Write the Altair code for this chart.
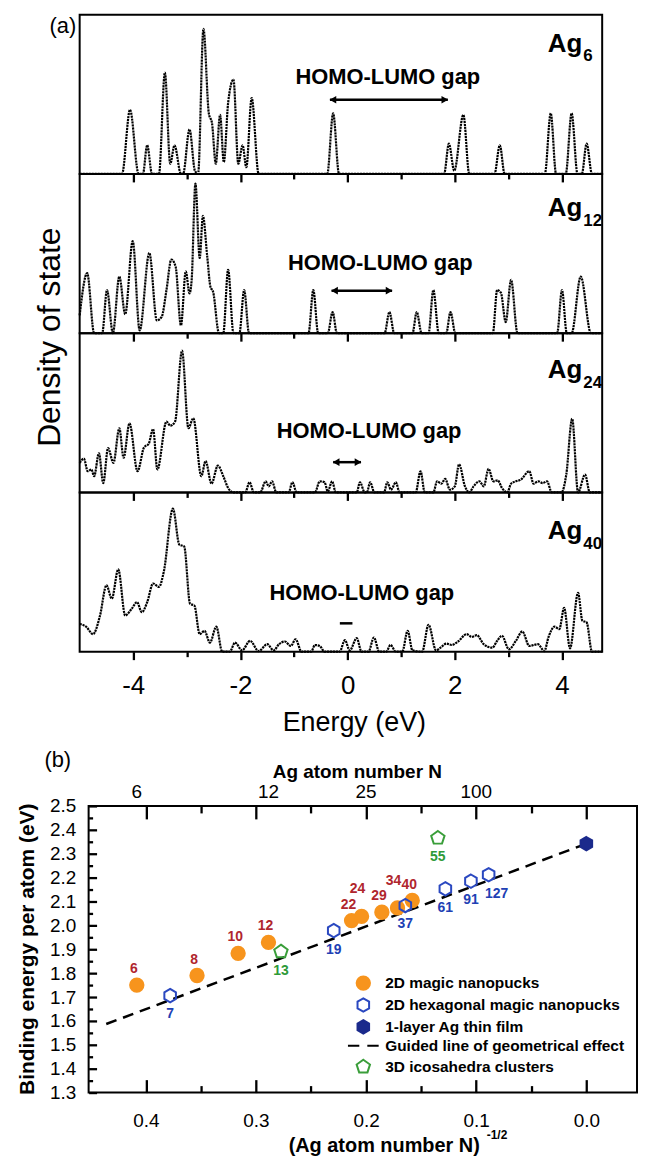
import altair as alt
import pandas as pd

FONT = "Liberation Sans"
TICK_COLOR = "black"

# ======================= (a) Density of states =======================
cluster_sizes = ["6", "12", "24", "40"]

ag6_energy = [-5.0, -4.21, -4.06, -3.90, -3.82, -3.74, -3.65, -3.52, -3.41, -3.31,
              -3.23, -3.11, -3.07, -2.95, -2.85, -2.79, -2.69, -2.59, -2.53, -2.46,
              -2.38, -2.31, -2.23, -2.13, -2.04, -1.96, -1.89, -1.79, -1.66, -0.38,
              -0.27, -0.16, 1.80, 1.89, 1.99, 2.16, 2.27, 2.74, 2.84, 2.93,
              3.68, 3.79, 3.89, 4.07, 4.18, 4.29, 4.37, 4.46, 4.56, 4.75]
ag6_dos = [0, 0, 40.3, 0, 0, 18, 0, 0, 63.6, 6.4,
           18, 0, 0, 28, 2, 0, 91.1, 38.1, 31.8, 6.4,
           37.1, 7.4, 44.5, 59.3, 6.4, 18, 4.2, 47.7, 0, 0,
           38.1, 0, 0, 19, 2, 37.1, 0, 0, 18, 0,
           0, 38.1, 0, 0, 38.1, 0, 0, 19, 0, 0]

ag12_energy = [-5.0, -4.86, -4.73, -4.58, -4.49, -4.38, -4.26, -4.15, -4.01, -3.88,
               -3.70, -3.56, -3.47, -3.38, -3.29, -3.21, -3.11, -3.02, -2.95, -2.91,
               -2.84, -2.76, -2.70, -2.62, -2.56, -2.51, -2.40, -2.32, -2.23, -2.13,
               -2.02, -1.93, -1.84, -0.73, -0.64, -0.55, -0.37, -0.28, -0.20, 0.69,
               0.78, 0.87, 1.21, 1.29, 1.38, 1.51, 1.60, 1.70, 1.84, 1.92,
               2.01, 2.71, 2.79, 2.86, 2.95, 3.05, 3.17, 3.91, 4.00, 4.09,
               4.18, 4.35, 4.54, 4.75]
ag12_dos = [11.2, 37.7, 0, 0, 27.1, 0, 35.6, 11.9, 57.8, 1.7,
            50.4, 8, 10.2, 27.1, 46.2, 41.9, 4.9, 38.8, 25, 33.5,
            93.9, 47.2, 73.7, 48.3, 29.2, 26, 0, 0, 39.8, 0,
            0, 27.1, 0, 0, 27.1, 0, 0, 13.3, 0, 0,
            13.3, 0, 0, 13.3, 0, 0, 27.1, 0, 0, 13.3,
            0, 0, 27.1, 25.4, 7, 33.5, 0, 0, 27.1, 0,
            0, 35.6, 0, 0]

ag24_energy = [-5.0, -4.92, -4.85, -4.78, -4.73, -4.64, -4.56, -4.47, -4.37, -4.26,
               -4.18, -4.07, -3.92, -3.80, -3.71, -3.63, -3.55, -3.38, -3.31, -3.22,
               -3.09, -2.97, -2.88, -2.73, -2.65, -2.54, -2.42, -2.32, -2.23, -2.13,
               -1.91, -1.83, -1.75, -1.63, -1.53, -1.47, -1.41, -1.33, -1.10, -1.03,
               -0.95, -0.61, -0.52, -0.43, -0.37, -0.29, -0.22, 0.17, 0.23, 0.32,
               0.36, 0.42, 0.50, 0.68, 0.74, 0.81, 0.90, 0.97, 1.27, 1.36,
               1.44, 1.60, 1.67, 1.75, 1.82, 1.91, 2.00, 2.08, 2.19, 2.27,
               2.35, 2.46, 2.54, 2.63, 2.72, 2.80, 2.88, 2.98, 3.05, 3.14,
               3.23, 3.39, 3.47, 3.56, 3.64, 3.72, 3.81, 3.99, 4.08, 4.19,
               4.30, 4.43, 4.52, 4.75]
ag24_dos = [18.6, 21.2, 13.3, 14.4, 10.2, 24.6, 5.9, 27.8, 18.6, 40.3,
            21.8, 43.4, 13.3, 28.2, 30.7, 39.8, 14.4, 44.5, 41.9, 44.5,
            89, 40.3, 46.6, 10.2, 19.7, 5.5, 16.9, 10.2, 2.8, 0,
            0, 6.4, 0, 0, 7, 3.8, 7, 0, 0, 6.4,
            0, 0, 7, 6.4, 0.6, 7, 0, 0, 6.4, 0,
            0, 6.4, 0, 0, 6.4, 1.7, 6.4, 0, 0, 13.3,
            0, 0, 7, 5.5, 8.5, 1.7, 3.8, 17.6, 3.8, 0,
            3.8, 7, 3.8, 14.8, 7, 7.6, 2.8, 0, 5.5, 7,
            8, 13.3, 5.5, 7, 5.9, 7, 0, 0, 11.2, 46.2,
            0, 11.2, 0, 0]

ag40_energy = [-5.0, -4.88, -4.75, -4.62, -4.50, -4.40, -4.28, -4.15, -4.03, -3.93,
               -3.84, -3.74, -3.63, -3.52, -3.43, -3.26, -3.14, -3.05, -2.94, -2.86,
               -2.76, -2.67, -2.57, -2.45, -2.34, -2.20, -2.10, -1.97, -1.82, -1.66,
               -1.50, -1.38, -1.28, -1.17, -1.06, -0.97, -0.86, -0.68, -0.61, -0.52,
               -0.43, -0.15, -0.05, 0.04, 0.17, 0.26, 0.39, 0.49, 0.59, 0.72,
               0.80, 0.90, 1.02, 1.12, 1.21, 1.39, 1.51, 1.65, 1.75, 1.84,
               1.94, 2.06, 2.22, 2.32, 2.41, 2.54, 2.70, 2.79, 2.88, 3.01,
               3.14, 3.26, 3.39, 3.55, 3.67, 3.75, 3.86, 3.95, 4.04, 4.15,
               4.30, 4.38, 4.46, 4.56, 4.75]
ag40_dos = [17.4, 15.7, 11, 22.7, 41.7, 33.3, 51.7, 22.7, 26.9, 31.1,
            24.8, 31.1, 42.8, 40.7, 50.2, 89.8, 67.2, 66.1, 30.1, 29,
            11, 13.1, 5.7, 15.7, 0, 0, 5.7, 0.8, 6.8, 0.4,
            4.7, 0.8, 4.7, 6.4, 3.6, 7.8, 0, 0, 4.2, 3.6,
            0, 0, 7.2, 0.8, 8.5, 0, 0, 8.9, 0, 0,
            4.2, 0, 0, 13.1, 0.8, 0, 16.9, 0.8, 3, 5.1,
            4.2, 6.4, 11, 9.3, 10.4, 4.7, 2.5, 6.8, 10, 1.5,
            6.8, 12.7, 3.6, 4.7, 0.4, 9.3, 15.7, 14.2, 27.5, 2.1,
            36.9, 19.5, 18.4, 0, 0]

dos_energy = [ag6_energy, ag12_energy, ag24_energy, ag40_energy]
dos_value = [ag6_dos, ag12_dos, ag24_dos, ag40_dos]

gap_text = "HOMO-LUMO gap"
gap_homo = [-0.33, -0.30, -0.27, -0.145]
gap_lumo = [1.87, 0.83, 0.25, 0.09]
gap_arrow_level = [46.6, 26.7, 19.0, 17.8]
gap_text_energy = [0.75, 0.61, 0.40, 0.265]
gap_text_level = [61.0, 44.0, 38.6, 37.0]

energy_ticks = [-4, -3, -2, -1, 0, 1, 2, 3, 4]
text_a = {"tag": "(a)", "ylab": "Density of state", "xlab": "Energy (eV)", "el": "Ag"}

# ======================= (b) Binding energy =======================
series = ["2D magic nanopucks", "2D hexagonal magic nanopucks", "1-layer Ag thin film",
          "Guided line of geometrical effect", "3D icosahedra clusters"]
magic_N = [6, 8, 10, 12, 22, 24, 29, 34, 40]
magic_Eb = [1.750, 1.790, 1.883, 1.929, 2.020, 2.038, 2.055, 2.073, 2.104]
hex_N = [7, 19, 37, 61, 91, 127]
hex_Eb = [1.706, 1.978, 2.083, 2.153, 2.185, 2.212]
film_x = [0.0]
film_Eb = [2.342]
ico_N = [13, 55]
ico_Eb = [1.890, 2.366]
guide_x = [0.436, 0.0]
guide_Eb = [1.587, 2.342]
top_N_labels = [6, 12, 25, 100]
raised_labels = [24, 34]
text_b = {"tag": "(b)", "top": "Ag atom number N", "ylab": "Binding energy per atom (eV)",
          "xlab": "(Ag atom number N)", "xsup": "-1/2"}

# ======================= layout / style =======================
ORANGE, BLUE, NAVY, GREEN = "#f7941d", "#2a48c0", "#1b2a8c", "#3a9e3a"
LBL_RED, LBL_BLUE, LBL_GREEN = "#b0252d", "#2040b4", "#2e9a38"
PW, PH = 525, 160
NPANEL = 4
E_DOMAIN = [-5.0, 4.75]
AG_BASE = [37, 42, 45, 47]
BW, BH = 560, 443
BX0, BY0 = 9, 155
XL, XR = 0.452, -0.046
YB, YT = 1.3, 2.5

E_SCALE = alt.Scale(domain=E_DOMAIN, nice=False, zero=False)
D_SCALE = alt.Scale(domain=[0, 100], nice=False, zero=False)


def txt(text, x, y, size, weight="normal", align="center", baseline="middle", angle=0, color="black"):
    mk = dict(font=FONT, fontSize=size, fontWeight=weight, align=align, baseline=baseline, color=color)
    if angle:
        mk["angle"] = angle
    return alt.Chart(alt.Data(values=[{"t": text}])).mark_text(**mk).encode(
        x=alt.value(x), y=alt.value(y), text="t:N")


LBL_A = "datum.value % 2 == 0 ? (datum.value < 0 ? '-' + abs(datum.value) : '' + datum.value) : ''"
TICK_A = {"expr": "datum.value % 2 == 0 ? 8 : 5"}


def dos_panel(k):
    last = k == NPANEL - 1
    axis = alt.Axis(values=energy_ticks, ticks=True, tickSize=TICK_A, tickWidth=2.3, tickColor=TICK_COLOR,
                    domain=False, grid=False, labels=last, labelExpr=LBL_A,
                    labelFont=FONT, labelFontSize=26, labelColor="black",
                    labelPadding=13, labelFlush=False, labelOverlap=False)

    def X(f):
        return alt.X(f, scale=E_SCALE, axis=axis, title=None)

    def Y(f):
        return alt.Y(f, scale=D_SCALE, axis=None, title=None)

    df = pd.DataFrame({"E": dos_energy[k], "D": dos_value[k]})
    curve = alt.Chart(df).mark_line(color="black", strokeWidth=2.2, strokeDash=[2.2, 0.8],
                                    interpolate="monotone").encode(x=X("E:Q"), y=Y("D:Q"))
    g = pd.DataFrame({"lo": [gap_homo[k]], "hi": [gap_lumo[k]], "lvl": [gap_arrow_level[k]],
                      "tx": [gap_text_energy[k]], "ty": [gap_text_level[k]], "t": [gap_text]})
    base = alt.Chart(g)
    arrow = base.mark_rule(color="black", strokeWidth=2.5).encode(x=X("lo:Q"), x2="hi:Q", y=Y("lvl:Q"))
    head_l = base.transform_filter("datum.hi - datum.lo > 0.3").mark_point(
        shape="triangle-left", filled=True, size=60, color="black", opacity=1, xOffset=3).encode(
        x=X("lo:Q"), y=Y("lvl:Q"))
    head_r = base.transform_filter("datum.hi - datum.lo > 0.3").mark_point(
        shape="triangle-right", filled=True, size=60, color="black", opacity=1, xOffset=-3).encode(
        x=X("hi:Q"), y=Y("lvl:Q"))
    label = base.mark_text(font=FONT, fontSize=22, fontWeight="bold", color="black").encode(
        x=X("tx:Q"), y=Y("ty:Q"), text="t:N")
    layers = [curve, arrow, head_l, head_r, label,
              txt(text_a["el"], 505, AG_BASE[k], 26, "bold", align="right", baseline="alphabetic"),
              txt(cluster_sizes[k], 506, AG_BASE[k] + 10, 17, "bold", align="left",
                  baseline="alphabetic")]
    if k == 0:
        layers.append(txt(".", -71, -3, 4, align="left", baseline="top", color="white"))
        layers.append(txt(text_a["tag"], -3.5, 11.5, 22, align="right"))
    if k == 2:
        layers.append(txt(text_a["ylab"], -19.5, 4, 32, baseline="alphabetic", angle=270))
    if k == NPANEL - 1:
        layers.append(txt(text_a["xlab"], 276, 232, 27))
    return alt.layer(*layers).properties(width=PW, height=PH)


# ---------------- panel (b) ----------------
X_HI = XL + (XL - XR) * BX0 / (BW - BX0)
Y_TOP = YT + (YT - YB) * BY0 / (BH - BY0)
BX = alt.Scale(domain=[XR, X_HI], reverse=True, nice=False, zero=False)
BY = alt.Scale(domain=[YB, Y_TOP], nice=False, zero=False)

rows = []
for n, e in zip(magic_N, magic_Eb):
    rows.append(dict(s=series[0], N=n, x=n ** -0.5, Eb=e, lab=str(n)))
for n, e in zip(hex_N, hex_Eb):
    rows.append(dict(s=series[1], N=n, x=n ** -0.5, Eb=e, lab=str(n)))
for xv, e in zip(film_x, film_Eb):
    rows.append(dict(s=series[2], N=0, x=xv, Eb=e, lab=""))
for n, e in zip(ico_N, ico_Eb):
    rows.append(dict(s=series[4], N=n, x=n ** -0.5, Eb=e, lab=str(n)))
pts = pd.DataFrame(rows)

bx_ticks = [round(0.05 * i, 2) for i in range(9)]
by_ticks = [round(1.3 + 0.05 * i, 2) for i in range(25)]
MAJOR = "round(datum.value * 100) % 10 == 0"

bottom_axis = alt.Axis(orient="bottom", values=bx_ticks, ticks=True,
                       tickSize={"expr": f"{MAJOR} ? -13 : -7"}, tickWidth=2.3, tickColor=TICK_COLOR,
                       domain=False, grid=False,
                       labelExpr=f"{MAJOR} ? format(datum.value, '.1f') : ''",
                       labelFont=FONT, labelFontSize=19, labelColor="black", labelPadding=32,
                       labelFlush=False, labelOverlap=False)
left_axis = alt.Axis(orient="left", values=by_ticks, ticks=True,
                     tickSize={"expr": f"{MAJOR} ? -8 : -4"}, tickWidth=2.3, tickColor=TICK_COLOR,
                     offset=-BX0, domain=False, grid=False,
                     labelExpr=f"{MAJOR} ? format(datum.value, '.1f') : ''",
                     labelFont=FONT, labelFontSize=19, labelColor="black", labelPadding=21,
                     labelFlush=False, labelOverlap=False)
top_axis = alt.Axis(orient="top", values=bx_ticks, ticks=True,
                    tickSize={"expr": f"{MAJOR} ? -13 : -7"}, tickWidth=2.3, tickColor=TICK_COLOR,
                    offset=-BY0, domain=False, grid=False, labels=False)


def BYe(f):
    return alt.Y(f, scale=BY, axis=left_axis, title=None)


HEX = "M0,-1L0.866,-0.5L0.866,0.5L0,1L-0.866,0.5L-0.866,-0.5Z"
PENT = "M0,-1.05L1,-0.32L0.62,0.85L-0.62,0.85L-1,-0.32Z"
DASH = "M-2.3,0L-0.6,0M0.6,0L2.3,0"
leg = alt.Legend(title=None, orient="none", legendX=277, legendY=PH * NPANEL + 325, padding=0,
                 symbolSize=180, symbolStrokeWidth=2, labelFont=FONT, labelFontSize=15.5,
                 labelFontWeight="bold", labelColor="black", labelLimit=400, labelOffset=14,
                 rowPadding=0)

frame = alt.Chart(alt.Data(values=[{"f": 1}])).mark_rect(
    fillOpacity=0, stroke="black", strokeWidth=2).encode(
    x=alt.value(BX0), x2=alt.value(BW), y=alt.value(BY0), y2=alt.value(BH))

guide = alt.Chart(pd.DataFrame({"gx": guide_x, "gy": guide_Eb})).mark_line(
    color="black", strokeWidth=2.5, strokeDash=[11, 7]).encode(
    x=alt.X("gx:Q", scale=BX, axis=top_axis, title=None), y=BYe("gy:Q"))

points = alt.Chart(pts).mark_point(size=180, strokeWidth=2, opacity=1).encode(
    x=alt.X("x:Q", scale=BX, axis=bottom_axis, title=None),
    y=BYe("Eb:Q"),
    shape=alt.Shape("s:N", scale=alt.Scale(domain=series, range=["circle", HEX, HEX, DASH, PENT]),
                    legend=leg),
    stroke=alt.Stroke("s:N", scale=alt.Scale(domain=series, range=[ORANGE, BLUE, NAVY, "black", GREEN]),
                      legend=leg),
    fill=alt.Fill("s:N", scale=alt.Scale(domain=series,
                                         range=[ORANGE, "transparent", NAVY, "transparent", "transparent"]),
                  legend=leg),
)


def pt_labels(flt, color, dx, dy):
    return alt.Chart(pts).transform_filter(flt).mark_text(
        font=FONT, fontSize=14, fontWeight="bold", color=color, dx=dx, dy=dy).encode(
        x=alt.X("x:Q", scale=BX, axis=None, title=None), y=BYe("Eb:Q"), text="lab:N")


raised = "[" + ",".join(str(v) for v in raised_labels) + "]"
lab_layers = [
    pt_labels(f"datum.s == '{series[0]}' && indexof({raised}, datum.N) < 0", LBL_RED, -3, -16),
    pt_labels(f"datum.s == '{series[0]}' && indexof({raised}, datum.N) >= 0", LBL_RED, -4, -27),
    pt_labels(f"datum.s == '{series[1]}' && datum.N != 127", LBL_BLUE, 0, 19),
    pt_labels(f"datum.s == '{series[1]}' && datum.N == 127", LBL_BLUE, 8, 19),
    pt_labels(f"datum.s == '{series[4]}'", LBL_GREEN, 0, 19),
]

top_df = pd.DataFrame({"x": [n ** -0.5 for n in top_N_labels], "t": [str(n) for n in top_N_labels]})
top_lbl = alt.Chart(top_df).mark_text(font=FONT, fontSize=19, color="black").encode(
    x=alt.X("x:Q", scale=BX, axis=None, title=None), y=alt.value(BY0 - 14), text="t:N")

b_titles = [
    txt(text_b["tag"], -22, 109, 22),
    txt(text_b["top"], 279, 121, 19, "bold"),
    txt(text_b["ylab"], -46, 299, 21, "bold", baseline="alphabetic", angle=270),
    txt(text_b["xlab"], 306, 497, 20, "bold"),
    txt(text_b["xsup"], 409, 486, 12, "bold", align="left"),
]

bchart = alt.layer(frame, guide, points, *lab_layers, top_lbl, *b_titles).properties(
    width=BW, height=BH, view=alt.ViewBackground(stroke="transparent"))

chart = alt.vconcat(*[dos_panel(k) for k in range(NPANEL)], bchart, spacing=0, bounds="flush").properties(
    padding=0, background="white").configure_view(stroke="black", strokeWidth=2)

chart.save("out.html", embed_options={"renderer": "svg", "actions": False})
